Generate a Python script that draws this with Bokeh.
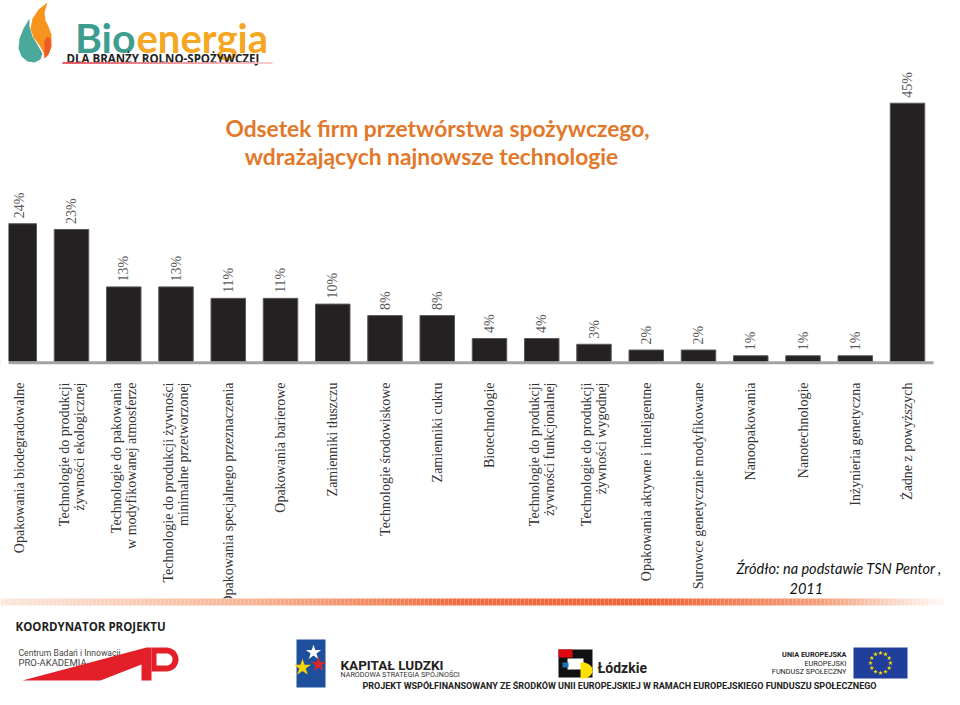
import numpy as np
from bokeh.plotting import figure
from bokeh.models import Range1d, ColumnDataSource
from bokeh.core.properties import value
from bokeh.embed import file_html
from bokeh.resources import INLINE

# ---------------- data ----------------
categories = [
    "Opakowania biodegradowalne",
    "Technologie do produkcji\nżywności ekologicznej",
    "Technologie do pakowania\nw modyfikowanej atmosferze",
    "Technologie do produkcji żywności\nminimalne przetworzonej",
    "Opakowania specjalnego przeznaczenia",
    "Opakowania barierowe",
    "Zamienniki tłuszczu",
    "Technologie środowiskowe",
    "Zamienniki cukru",
    "Biotechnologie",
    "Technologie do produkcji\nżywności funkcjonalnej",
    "Technologie do produkcji\nżywności wygodnej",
    "Opakowania aktywne i inteligentne",
    "Surowce genetycznie modyfikowane",
    "Nanoopakowania",
    "Nanotechnologie",
    "Inżynieria genetyczna",
    "Żadne z powyższych",
]
values = [24, 23, 13, 13, 11, 11, 10, 8, 8, 4, 4, 3, 2, 2, 1, 1, 1, 45]
pct_labels = [f"{v}%" for v in values]

title_lines = ["Odsetek firm przetwórstwa spożywczego,",
               "wdrażających najnowsze technologie"]
source_lines = ["Źródło: na podstawie TSN Pentor ,", "2011"]

# ---------------- layout helpers (picture pixel -> data) ----------------
PITCH = 52.25      # px per category
X0 = 18.75         # x of first category centre
PPP = 5.74         # px per percent
BASE = 361.0       # y of the baseline
FY = -6            # vertical shift of footer logos


def dx(px):
    return (px - X0) / PITCH


def dy(py):
    return (BASE - py) / PPP


def fy(py):
    return dy(py + FY)


W, H = 944, 689
p = figure(width=W, height=H,
           x_range=Range1d(dx(0), dx(W)), y_range=Range1d(dy(H), dy(0)),
           x_axis_type=None, y_axis_type=None,
           output_backend="svg", toolbar_location=None, min_border=0,
           outline_line_color=None, background_fill_color="white",
           border_fill_color="white")
p.xgrid.visible = False
p.ygrid.visible = False

idx = list(range(len(values)))
src = ColumnDataSource(dict(x=idx, top=values, lab=pct_labels, cat=categories,
                            ty=[v + 5.5 / PPP for v in values]))

# ---------------- bars ----------------
p.vbar(x="x", top="top", bottom=0, width=0.66, source=src,
       fill_color="#252122", line_color="#5a5a5a", line_width=1)
p.line([dx(0), dx(933)], [-1.2 / PPP, -1.2 / PPP], line_color="#a3a3a3", line_width=3)
# left margin of the original picture
p.quad(left=dx(0), right=dx(8), top=dy(190), bottom=dy(370),
       fill_color="white", line_color=None)

p.text(x="x", y="ty", text="lab", source=src, angle=np.pi / 2,
       text_align="left", text_baseline="middle",
       text_font=value("Liberation Serif"), text_font_size=value("14px"),
       text_color="#5a5a5a")

p.text(x="x", y=dy(382), text="cat", source=src, angle=np.pi / 2,
       text_align="right", text_baseline="middle", text_line_height=1.0,
       text_font=value("Liberation Serif"), text_font_size=value("14px"),
       text_color="#333333")

# ---------------- title ----------------
p.text(x=[dx(437), dx(431)], y=[dy(127), dy(155)], text=title_lines,
       text_align="center", text_baseline="alphabetic",
       text_font=value("Lato"), text_font_style="bold",
       text_font_size=value("22.8px"), text_color="#e2782a")

# ---------------- source ----------------
p.text(x=[dx(736), dx(789)], y=[dy(568), dy(588)], text=source_lines,
       text_align="left", text_baseline="alphabetic",
       text_font=value("Lato"), text_font_style="italic",
       text_font_size=value("14.5px"), text_color="#111111")

# ---------------- footer area ----------------
p.quad(left=dx(0), right=dx(W), top=dy(598), bottom=dy(H),
       fill_color="white", line_color=None)

# gradient band
stops_x = [0, 250, 450, 650, 820, 900, 944]
stops_c = [(252, 232, 222), (248, 180, 148), (241, 110, 66), (240, 100, 55),
           (246, 160, 125), (251, 222, 208), (255, 250, 248)]
xs = np.arange(0, 944, 4)
cols = []
for xx in xs:
    c = [int(np.interp(xx, stops_x, [s[k] for s in stops_c])) for k in range(3)]
    cols.append("#%02x%02x%02x" % tuple(c))
p.quad(left=[dx(v) for v in xs], right=[dx(v + 4) for v in xs],
       top=dy(598), bottom=dy(605), fill_color=cols, line_color=None)

sans = value("Open Sans")
rob = value("Roboto")

p.text(x=[dx(15)], y=[dy(626)], text=["KOORDYNATOR PROJEKTU"],
       text_font=sans, text_font_style="bold", text_font_size=value("11.5px"),
       text_color="#222222", text_baseline="alphabetic")

# PRO-AKADEMIA logo
p.text(x=[dx(18), dx(18)], y=[fy(658), fy(668)],
       text=["Centrum Badań i Innowacji", "PRO-AKADEMIA"],
       text_font=rob, text_font_size=["8.6px", "9.5px"],
       text_color="#444444", text_baseline="alphabetic")
ap_x = [22, 146, 151, 151, 141, 141, 100]
ap_y = [686, 653, 653, 686, 686, 670, 686]
p.patch([dx(v) for v in ap_x], [fy(v) for v in ap_y], fill_color="#e3202a", line_color=None)
th = np.linspace(np.pi / 2, -np.pi / 2, 20)
bx = [151] + list(166 + 12 * np.cos(th)) + [151]
by = [653] + list(665 - 12 * np.sin(th)) + [677]
p.patch([dx(v) for v in bx], [fy(v) for v in by], fill_color="#e3202a", line_color=None)
ix = [156] + list(166 + 6 * np.cos(th)) + [156]
iy = [659] + list(665 - 6 * np.sin(th)) + [671]
p.patch([dx(v) for v in ix], [fy(v) for v in iy], fill_color="white", line_color=None)

# Kapitał Ludzki logo
p.quad(left=dx(296), right=dx(325), top=fy(645), bottom=fy(693),
       fill_color="#1d4f9c", line_color=None)
p.scatter(x=[dx(313), dx(318), dx(302)], y=[fy(658), fy(670), fy(673)],
          marker="star", size=[16, 16, 18],
          fill_color=["white", "#d7262c", "#f5d500"], line_color=None)
p.text(x=[dx(340)], y=[fy(670)], text=["KAPITAŁ LUDZKI"], text_font=rob,
       text_font_style="bold", text_font_size=value("13.5px"), text_color="#222222",
       text_baseline="alphabetic")
p.text(x=[dx(340)], y=[fy(680)], text=["NARODOWA STRATEGIA SPÓJNOŚCI"], text_font=rob,
       text_font_size=value("7.2px"), text_color="#333333", text_baseline="alphabetic")

# Łódzkie logo
p.quad(left=dx(558), right=dx(592), top=fy(655), bottom=fy(683),
       fill_color="#111111", line_color=None)
p.quad(left=dx(558), right=dx(572), top=fy(655), bottom=fy(663),
       fill_color="#e30613", line_color=None)
p.quad(left=dx(567), right=dx(583), top=fy(664), bottom=fy(675),
       fill_color="white", line_color=None)
p.quad(left=dx(562), right=dx(568), top=fy(668), bottom=fy(673),
       fill_color="#1d71b8", line_color=None)
th2 = np.linspace(np.pi / 2, -np.pi / 2, 20)
yx = [580] + list(582 + 10 * np.cos(th2)) + [580]
yy = [668] + list(676 - 8 * np.sin(th2)) + [684]
p.patch([dx(v) for v in yx], [fy(v) for v in yy], fill_color="#ffe000", line_color=None)
p.text(x=[dx(597)], y=[fy(673)], text=["Łódzkie"], text_font=rob,
       text_font_style="bold", text_font_size=value("14px"), text_color="#222222",
       text_baseline="alphabetic")

# EU logo
p.text(x=[dx(846)] * 3, y=[fy(660), fy(669), fy(677)],
       text=["UNIA EUROPEJSKA", "EUROPEJSKI", "FUNDUSZ SPOŁECZNY"],
       text_font=rob, text_font_style=["bold", "normal", "normal"],
       text_font_size=value("7.3px"), text_color="#222222",
       text_align="right", text_baseline="alphabetic")
p.quad(left=dx(853), right=dx(907), top=fy(653), bottom=fy(684),
       fill_color="#1f3f9b", line_color=None)
ang = np.arange(12) * np.pi / 6
p.scatter(x=[dx(880 + 10 * np.cos(a)) for a in ang],
          y=[fy(668.5 + 10 * np.sin(a)) for a in ang],
          marker="star", size=5, fill_color="#ffdd00", line_color=None)

p.text(x=[dx(362)], y=[dy(685)],
       text=["PROJEKT WSPÓŁFINANSOWANY ZE  ŚRODKÓW UNII EUROPEJSKIEJ W RAMACH EUROPEJSKIEGO FUNDUSZU SPOŁECZNEGO"],
       text_font=rob, text_font_style="bold", text_font_size=value("9px"),
       text_color="#222222", text_baseline="alphabetic")

# ---------------- Bioenergia logo ----------------
teal_x = [29, 23, 19, 18, 21, 27, 34, 40, 42, 38, 32, 29]
teal_y = [18, 28, 38, 48, 56, 61, 62, 59, 53, 46, 36, 26]
p.patch([dx(v) for v in teal_x], [dy(v) for v in teal_y], fill_color="#4aa99b", line_color=None)
or_x = [47, 38, 32, 30, 33, 39, 43, 44, 48, 51, 51, 48, 45, 44]
or_y = [2, 9, 18, 28, 37, 45, 52, 58, 54, 45, 34, 26, 20, 12]
p.patch([dx(v) for v in or_x], [dy(v) for v in or_y], fill_color="#f7941e", line_color=None)
rd_x = [44, 47, 50, 51, 48, 44]
rd_y = [40, 36, 38, 46, 54, 58]
p.patch([dx(v) for v in rd_x], [dy(v) for v in rd_y], fill_color="#ef5b25", line_color=None)

p.text(x=[dx(135)], y=[dy(37)], text=["Bio"], text_font=value("Lato"),
       text_font_style="bold", text_font_size=value("41px"), text_color="#3e9d8f",
       text_align="right", text_baseline="alphabetic")
p.text(x=[dx(136)], y=[dy(37)], text=["energia"], text_font=value("Lato"),
       text_font_style="bold", text_font_size=value("40px"), text_color="#f5a623",
       text_align="left", text_baseline="alphabetic")
p.text(x=[dx(66)], y=[dy(58)], text=["DLA BRANŻY ROLNO-SPOŻYWCZEJ"], text_font=sans,
       text_font_style="bold", text_font_size=value("11.5px"), text_color="#222222",
       text_baseline="alphabetic")
ux = np.arange(62, 272, 3)
ucols = []
for xx in ux:
    t = (xx - 62) / 210.0
    c = (int(230 + 20 * t), int(80 + 120 * t), int(90 + 110 * t))
    ucols.append("#%02x%02x%02x" % c)
p.quad(left=[dx(v) for v in ux], right=[dx(v + 3) for v in ux],
       top=dy(61.5), bottom=dy(63.5), fill_color=ucols, line_color=None)

open("out.html", "w").write(file_html(p, INLINE))
